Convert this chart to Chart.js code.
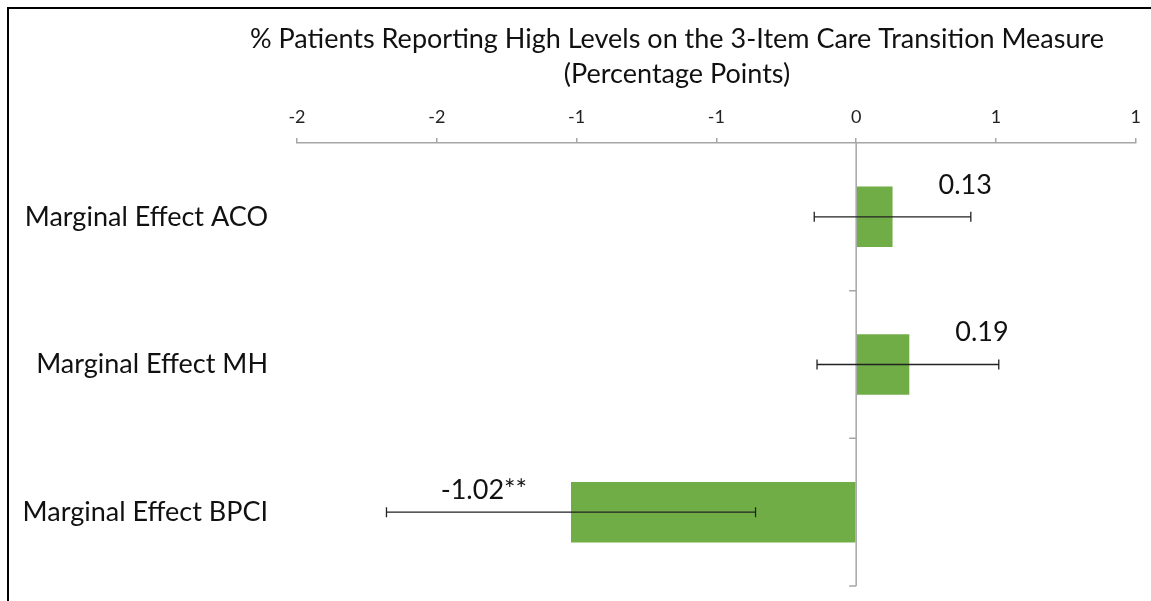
<!DOCTYPE html>
<html lang="en">
<head>
<meta charset="UTF-8">
<title>Care Transition Measure</title>
<script src="https://cdn.jsdelivr.net/npm/chart.js@4"></script>
<style>
  html, body { margin: 0; padding: 0; background: #fff; overflow: hidden; }
  #wrap { position: relative; width: 1151px; height: 601px; }
  #chart { display: block; }
  #frame { position: absolute; left: 7px; top: 7px; right: 0; bottom: 0;
           border-left: 2.5px solid #000; border-top: 2.5px solid #000; pointer-events: none; }
</style>
</head>
<body>
<div id="wrap">
  <canvas id="chart" width="1151" height="601"></canvas>
  <div id="frame"></div>
</div>
<script>
  // data
  const categories = ['Marginal Effect ACO', 'Marginal Effect MH', 'Marginal Effect BPCI'];
  const effects = [0.13, 0.19, -1.02];
  const ciLow = [-0.15, -0.14, -1.68];
  const ciHigh = [0.41, 0.51, -0.36];
  const valueLabels = ['0.13', '0.19', '-1.02**'];
  const xTicks = [-2, -1.5, -1, -0.5, 0, 0.5, 1];
  const xTickLabels = ['-2', '-2', '-1', '-1', '0', '1', '1'];
  const titleLines = ['% Patients Reporting High Levels on the 3-Item Care Transition Measure', '(Percentage Points)'];

  const FONT = 'Lato, "Open Sans", sans-serif';
  const axisGray = '#a6a6a6';

  // zero axis, error bars, value labels and the title
  const extras = {
    id: 'extras',
    beforeDatasetsDraw(chart) {
      const { ctx, chartArea, scales: { x } } = chart;
      const x0 = x.getPixelForValue(0);
      const step = (chartArea.bottom - chartArea.top) / categories.length;
      ctx.save();
      ctx.strokeStyle = axisGray;
      ctx.lineWidth = 1.5;
      ctx.beginPath();
      ctx.moveTo(x0, chartArea.top);
      ctx.lineTo(x0, chartArea.bottom);
      for (let i = 1; i <= categories.length; i++) {
        const yy = chartArea.top + step * i;
        ctx.moveTo(x0 - 7, yy);
        ctx.lineTo(x0, yy);
      }
      ctx.stroke();
      ctx.restore();
    },
    afterDatasetsDraw(chart) {
      const { ctx, scales: { x, y } } = chart;
      ctx.save();
      ctx.strokeStyle = '#222';
      ctx.lineWidth = 1.3;
      categories.forEach((c, i) => {
        const yc = y.getPixelForValue(i);
        const xl = x.getPixelForValue(ciLow[i]);
        const xh = x.getPixelForValue(ciHigh[i]);
        ctx.beginPath();
        ctx.moveTo(xl, yc); ctx.lineTo(xh, yc);
        ctx.moveTo(xl, yc - 5); ctx.lineTo(xl, yc + 5);
        ctx.moveTo(xh, yc - 5); ctx.lineTo(xh, yc + 5);
        ctx.stroke();

        const xe = x.getPixelForValue(effects[i]);
        ctx.fillStyle = '#111';
        ctx.font = '27px ' + FONT;
        ctx.textBaseline = 'middle';
        if (effects[i] >= 0) {
          ctx.textAlign = 'left';
          ctx.fillText(valueLabels[i], xe + 46, yc - 32);
        } else {
          ctx.textAlign = 'right';
          ctx.fillText(valueLabels[i], xe - 44, yc - 22);
        }
      });
      // title
      ctx.fillStyle = '#111';
      ctx.font = '27px ' + FONT;
      ctx.textAlign = 'center';
      ctx.textBaseline = 'middle';
      ctx.fillText(titleLines[0], 677, 39);
      ctx.fillText(titleLines[1], 677, 74);
      ctx.restore();
    }
  };

  new Chart(document.getElementById('chart').getContext('2d'), {
    type: 'bar',
    data: {
      labels: categories,
      datasets: [{
        data: effects,
        backgroundColor: '#70ad47',
        borderWidth: 0,
        barPercentage: 0.41,
        categoryPercentage: 1
      }]
    },
    options: {
      indexAxis: 'y',
      responsive: false,
      animation: false,
      layout: { padding: { top: 100, right: 12, bottom: 15, left: 0 } },
      plugins: { legend: { display: false }, tooltip: { enabled: false }, title: { display: false } },
      scales: {
        x: {
          type: 'linear',
          position: 'top',
          min: -2,
          max: 1,
          afterBuildTicks: (axis) => { axis.ticks = xTicks.map(v => ({ value: v })); },
          afterFit: (axis) => { axis.height = 43; },
          ticks: {
            callback: (v, i) => xTickLabels[i],
            font: { family: FONT, size: 18 },
            color: '#222',
            padding: 10,
            maxRotation: 0
          },
          grid: { drawOnChartArea: false, drawTicks: true, tickLength: 5, tickColor: axisGray, lineWidth: 1.5 },
          border: { display: true, color: axisGray, width: 1.5 }
        },
        y: {
          afterFit: (axis) => {
            axis.width = 297;
            axis.paddingTop = 0;
            axis.paddingBottom = 0;
          },
          ticks: {
            font: { family: FONT, size: 27 },
            color: '#111',
            padding: 29
          },
          grid: { display: false, drawTicks: false },
          border: { display: false }
        }
      }
    },
    plugins: [extras]
  });
</script>
</body>
</html>
